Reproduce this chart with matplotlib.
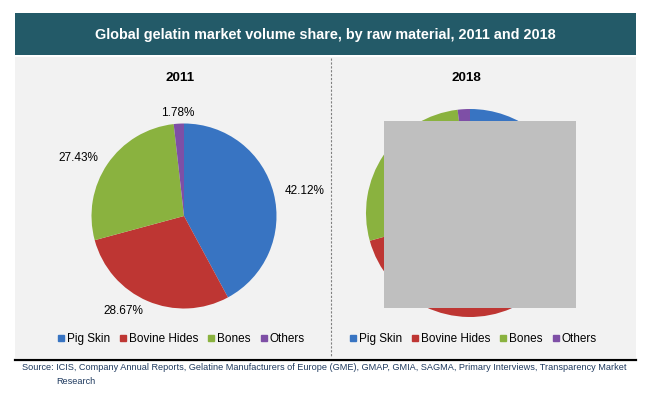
import matplotlib
matplotlib.use("Agg")
import matplotlib.pyplot as plt
from matplotlib.patches import Rectangle
from matplotlib.lines import Line2D

W, H = 650, 396

TITLE = "Global gelatin market volume share, by raw material, 2011 and 2018"
SOURCE_1 = ("Source: ICIS, Company Annual Reports, Gelatine Manufacturers of Europe (GME), "
            "GMAP, GMIA, SAGMA, Primary Interviews, Transparency Market")
SOURCE_2 = "Research"
materials = ["Pig Skin", "Bovine Hides", "Bones", "Others"]
share_2011 = [42.12, 28.67, 27.43, 1.78]
share_2018 = [43.5, 27.2, 27.4, 1.9]      # mostly hidden in the reference, estimated
COLORS = ["#3874C2", "#BE3633", "#8AB23F", "#7E4FA6"]

plt.rcParams.update({"font.family": ["Liberation Sans", "DejaVu Sans"]})


def px(x0, y0, x1, y1):
    """pixel box (top-left origin) -> figure fraction [l, b, w, h]"""
    return [x0 / W, 1 - y1 / H, (x1 - x0) / W, (y1 - y0) / H]


fig = plt.figure(figsize=(W / 100, H / 100), dpi=100)
fig.patch.set_facecolor("white")

# background layer in pixel coordinates (top-left origin)
bg = fig.add_axes([0, 0, 1, 1], zorder=0)
bg.set_xlim(0, W); bg.set_ylim(H, 0); bg.axis("off")
bg.add_patch(Rectangle((15, 13), 621, 42, facecolor="#235A68", edgecolor="none"))
bg.add_patch(Rectangle((15, 57), 621, 301, facecolor="#F2F2F2", edgecolor="none"))
bg.text(325.5, 35, TITLE, color="white", fontsize=10.4, fontweight="bold",
        ha="center", va="center")
bg.plot([331, 331], [58, 357], color="#808080", lw=0.8, linestyle=(0, (2, 1.5)))
bg.plot([15, 636], [359.5, 359.5], color="black", lw=1.6)
bg.text(22, 368, SOURCE_1, color="#1F3A5F", fontsize=6.6, ha="left", va="center")
bg.text(56, 382, SOURCE_2, color="#1F3A5F", fontsize=6.6, ha="left", va="center")


def pie_panel(cx, cy, r, vals, year, legend_x, labels=True):
    ax = fig.add_axes(px(cx - r, cy - r, cx + r, cy + r), zorder=1)
    ax.patch.set_alpha(0)
    lab = [f"{v:.2f}%" for v in vals] if labels else None
    res = ax.pie(vals, colors=COLORS, startangle=90, counterclock=False, radius=1,
                 labels=lab, labeldistance=1.12, wedgeprops=dict(linewidth=0),
                 textprops=dict(fontsize=8.5, color="black"))
    ax.set_xlim(-1, 1); ax.set_ylim(-1, 1); ax.set_aspect("equal"); ax.axis("off")
    if labels:
        res[1][3].set_ha("center")
    bg.text(cx - 4, 78, year, fontsize=9.7, fontweight="bold", ha="center", va="center")
    handles = [Line2D([], [], marker="s", ls="none", markersize=4.5, color=c) for c in COLORS]
    fig.legend(handles, materials, loc="center", bbox_to_anchor=(legend_x / W, 1 - 339 / H),
               ncol=4, frameon=False, fontsize=8.5, handlelength=0.6, handletextpad=0.2,
               columnspacing=0.8)
    return ax


pie_panel(184, 216, 92.5, share_2011, "2011", 181)
pie_panel(470, 213, 104, share_2018, "2018", 473, labels=False)

# grey redaction box over the 2018 pie
top = fig.add_axes([0, 0, 1, 1], zorder=2)
top.set_xlim(0, W); top.set_ylim(H, 0); top.axis("off")
top.add_patch(Rectangle((384, 121), 192, 187, facecolor="#BFBFBF", edgecolor="none"))

fig.savefig("out.png", dpi=100)
